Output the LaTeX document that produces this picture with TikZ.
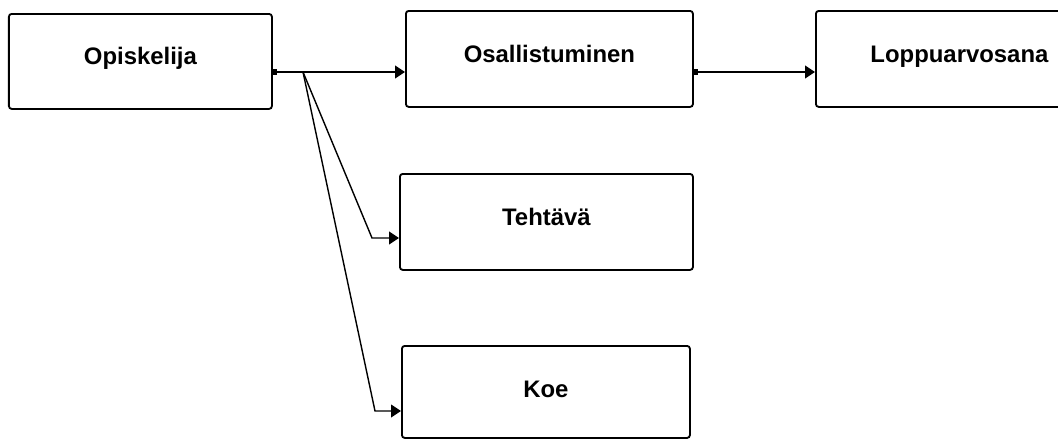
\documentclass[tikz,border=0pt]{standalone}
\usepackage{fontspec}
\setmainfont{Liberation Sans}
\usetikzlibrary{arrows.meta,positioning,calc}

\begin{document}
\begin{tikzpicture}[
    every node/.style={font=\fontsize{17}{20}\selectfont\bfseries},
    entity/.style={rectangle, draw=black, line width=1.3pt, rounded corners=2pt, anchor=north west, inner xsep=0pt, inner ysep=0pt, text height=1.3cm, text depth=1.1cm},
    link/.style={-{Triangle[length=7pt,width=9pt]}, line width=1pt},
    dotlink/.style={{Square[length=3pt,width=4.5pt]}-{Triangle[length=7pt,width=9pt]}, line width=1pt}
]
\useasboundingbox (0,0) rectangle (26.45,-11.025);

\node[entity, minimum width=6.575cm, text height=1.275cm] (opisk) at (0.2,-0.325) {Opiskelija};
\node[entity, minimum width=7.175cm] (osall) at (10.125,-0.25) {Osallistuminen};
\node[entity, minimum width=7.175cm] (loppu) at (20.375,-0.25) {Loppuarvosana};
\node[entity, minimum width=7.325cm] (tehtava) at (9.975,-4.325) {Tehtävä};
\node[entity, minimum width=7.2cm, text depth=1.0cm] (koe) at (10.025,-8.625) {Koe};

\coordinate (split) at (7.575,-1.8);
\coordinate (tbend) at (9.3,-5.95);
\coordinate (kbend) at (9.375,-10.275);

\draw[dotlink] (opisk.east |- split) -- (osall.west |- split);
\draw[link] (split) -- (tbend) -- (tbend -| tehtava.west);
\draw[link] (split) -- (kbend) -- (kbend -| koe.west);
\draw[dotlink] (osall.east |- split) -- (loppu.west |- split);

\end{tikzpicture}
\end{document}
